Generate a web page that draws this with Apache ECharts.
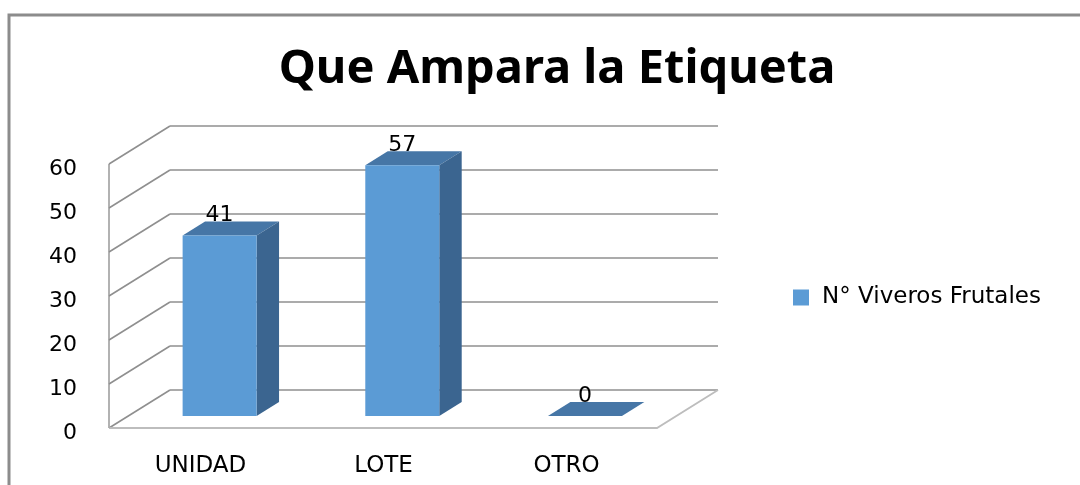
<!DOCTYPE html>
<html>
<head>
<meta charset="utf-8">
<script src="https://cdn.jsdelivr.net/npm/echarts@6/dist/echarts.min.js"></script>
<style>
  html, body { margin: 0; padding: 0; background: #fff; }
  #chart { width: 1080px; height: 485px; }
</style>
</head>
<body>
<div id="chart"></div>
<script>
// datos
var categorias = ['UNIDAD', 'LOTE', 'OTRO'];
var viveros = [41, 57, 0];
var ticksY = [0, 10, 20, 30, 40, 50, 60];

(function () {
    var myChart = echarts.init(document.getElementById('chart'));

    // desplazamiento de profundidad (pared del fondo -> borde frontal)
    var DX = -61, DY = 38;
    var FRENTE = 0.684, ATRAS = 0.316;

    var colFrente = '#5b9bd5';
    var colLado = '#3b6590';
    var colTope = '#4676a6';
    var colLinea = '#8f8f8f';
    var colPiso = '#bdbdbd';

    // barras 3D
    function dibujarBarra(params, api) {
        var cat = api.value(0), v = api.value(1);
        var base = api.coord([cat, 0]);
        var tope = api.coord([cat, v]);
        var half = api.size([1, 0])[0] * 0.405 / 2;
        var fx = base[0] + DX * FRENTE, fy0 = base[1] + DY * FRENTE, fy1 = tope[1] + DY * FRENTE;
        var bx = base[0] + DX * ATRAS, by0 = base[1] + DY * ATRAS, by1 = tope[1] + DY * ATRAS;
        var hijos = [
            {
                type: 'polygon',
                shape: { points: [[fx - half, fy1], [fx + half, fy1], [bx + half, by1], [bx - half, by1]] },
                style: { fill: colTope }
            },
            {
                type: 'polygon',
                shape: { points: [[fx + half, fy1], [bx + half, by1], [bx + half, by0], [fx + half, fy0]] },
                style: { fill: colLado }
            },
            {
                type: 'rect',
                shape: { x: fx - half, y: fy1, width: half * 2, height: fy0 - fy1 },
                style: { fill: colFrente }
            },
            {
                type: 'text',
                style: {
                    text: String(v), x: fx, y: by1 - 6,
                    align: 'center', verticalAlign: 'middle',
                    fontFamily: 'DejaVu Sans', fontSize: 22, fill: '#000'
                }
            }
        ];
        return { type: 'group', children: hijos };
    }

    // paredes: diagonales del lado izquierdo y piso
    function dibujarParedes(params, api) {
        var v = api.value(0);
        var p = api.coord([0, v]);
        var bw = api.size([1, 0])[0];
        var x0 = p[0] - bw / 2;
        var hijos = [{
            type: 'line',
            shape: { x1: x0, y1: p[1], x2: x0 + DX, y2: p[1] + DY },
            style: { stroke: colLinea, lineWidth: 1.6 }
        }];
        if (v === 0) {
            var x1 = api.coord([categorias.length - 1, 0])[0] + bw / 2;
            var arriba = api.coord([0, ticksY[ticksY.length - 1]])[1];
            hijos.push({
                type: 'polyline',
                shape: { points: [[x0 + DX, p[1] + DY], [x1 + DX, p[1] + DY], [x1, p[1]]] },
                style: { stroke: colPiso, lineWidth: 1.8, fill: null }
            });
            hijos.push({
                type: 'line',
                shape: { x1: x0 + DX, y1: arriba + DY, x2: x0 + DX, y2: p[1] + DY },
                style: { stroke: '#aaaaaa', lineWidth: 1.8 }
            });
        }
        return { type: 'group', children: hijos };
    }

    var option = {
        animation: false,
        title: {
            text: 'Que Ampara la Etiqueta',
            left: 552,
            textAlign: 'center',
            top: 41,
            textStyle: { fontFamily: 'Noto Sans', fontWeight: 'bold', fontSize: 47, color: '#000' }
        },
        legend: {
            data: ['N° Viveros Frutales'],
            left: 793,
            top: 286,
            padding: 0,
            icon: 'rect',
            itemWidth: 16,
            itemHeight: 16,
            textStyle: { fontFamily: 'DejaVu Sans', fontSize: 23, color: '#000', padding: [0, 0, 0, 8] }
        },
        graphic: [{
            type: 'rect',
            shape: { x: 9, y: 15, width: 1200, height: 600 },
            style: { fill: null, stroke: '#8c8c8c', lineWidth: 3 },
            silent: true
        }],
        grid: [
            // pared del fondo
            { left: 170, top: 126, width: 548, height: 264 },
            // plano frontal (solo etiquetas)
            { left: 109, top: 169, width: 549, height: 264 }
        ],
        xAxis: [
            { type: 'category', gridIndex: 0, data: categorias, show: false },
            {
                type: 'category', gridIndex: 1, data: categorias,
                axisLine: { show: false }, axisTick: { show: false },
                axisLabel: { margin: 22, fontFamily: 'DejaVu Sans', fontSize: 23, color: '#000' }
            }
        ],
        yAxis: [
            {
                type: 'value', gridIndex: 0, min: 0, max: 60, interval: 10,
                axisLine: { show: false }, axisTick: { show: false }, axisLabel: { show: false },
                splitLine: { lineStyle: { color: colLinea, width: 1.6 } }
            },
            {
                type: 'value', gridIndex: 1, min: 0, max: 60, interval: 10,
                axisLine: { show: false }, axisTick: { show: false }, splitLine: { show: false },
                axisLabel: { margin: 32, fontFamily: 'DejaVu Sans', fontSize: 22, color: '#000' }
            }
        ],
        series: [
            {
                type: 'custom',
                name: 'paredes',
                xAxisIndex: 0, yAxisIndex: 0,
                renderItem: dibujarParedes,
                data: ticksY.map(function (t) { return [t]; }),
                encode: { y: 0 },
                silent: true,
                z: 1
            },
            {
                type: 'custom',
                name: 'N° Viveros Frutales',
                xAxisIndex: 0, yAxisIndex: 0,
                itemStyle: { color: colFrente },
                renderItem: dibujarBarra,
                data: viveros.map(function (v, i) { return [i, v]; }),
                encode: { x: 0, y: 1 },
                z: 3
            }
        ]
    };

    window.addEventListener('resize', function () {
        myChart.resize();
    });

    myChart.setOption(option);
})();
</script>
</body>
</html>
